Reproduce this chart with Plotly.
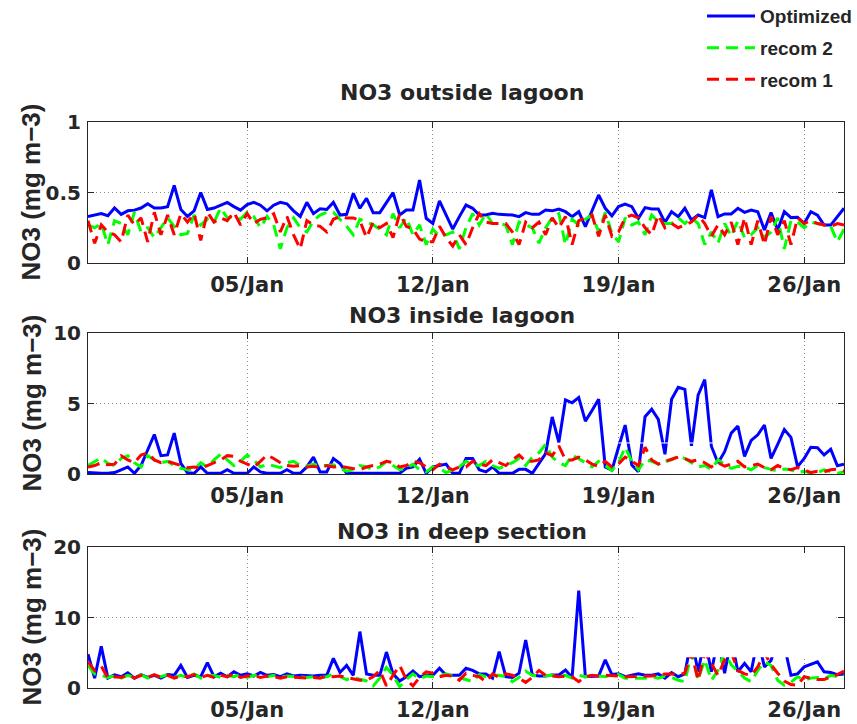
import pandas as pd
import plotly.graph_objects as go

# ---- six-hourly NO3 series (mg m-3), 30 Dec 00:00 -> 27 Jan 12:00 ----
start_time = "2011-12-30 00:00"
n_steps = 115

# NO3 outside lagoon
outside_optimized = [
    0.33, 0.34, 0.35, 0.335, 0.39, 0.345, 0.37, 0.375, 0.39, 0.42,
    0.39, 0.39, 0.40, 0.55, 0.38, 0.33, 0.37, 0.50, 0.38, 0.39,
    0.41, 0.43, 0.40, 0.375, 0.415, 0.43, 0.41, 0.37, 0.41, 0.43,
    0.42, 0.37, 0.33, 0.43, 0.35, 0.385, 0.38, 0.43, 0.34, 0.345,
    0.494, 0.388, 0.459, 0.357, 0.357, 0.43, 0.499, 0.34, 0.376, 0.376,
    0.589, 0.317, 0.281, 0.44, 0.34, 0.241, 0.329, 0.411, 0.388, 0.34,
    0.34, 0.352, 0.345, 0.34, 0.34, 0.329, 0.357, 0.345, 0.345, 0.376,
    0.37, 0.383, 0.364, 0.329, 0.364, 0.258, 0.364, 0.482, 0.388, 0.335,
    0.400, 0.418, 0.400, 0.317, 0.393, 0.383, 0.383, 0.288, 0.364, 0.329,
    0.388, 0.305, 0.340, 0.322, 0.518, 0.329, 0.348, 0.348, 0.388, 0.359,
    0.376, 0.364, 0.234, 0.357, 0.234, 0.364, 0.322, 0.325, 0.281, 0.364,
    0.340, 0.269, 0.269, 0.329, 0.388,
]
outside_recom2 = [
    0.27, 0.25, 0.28, 0.13, 0.30, 0.28, 0.20, 0.36, 0.22, 0.25,
    0.18, 0.25, 0.32, 0.26, 0.20, 0.21, 0.34, 0.27, 0.31, 0.29,
    0.39, 0.32, 0.33, 0.31, 0.36, 0.33, 0.25, 0.33, 0.27, 0.10,
    0.25, 0.32, 0.25, 0.22, 0.30, 0.34, 0.36, 0.36,
    0.31, 0.26, 0.20, 0.31, 0.29, 0.27, 0.24, 0.20, 0.35, 0.25,
    0.32, 0.20, 0.27, 0.13, 0.24, 0.19, 0.20, 0.22, 0.10, 0.25,
    0.35, 0.27, 0.35, 0.28, 0.28, 0.27, 0.13, 0.29, 0.27, 0.25,
    0.14, 0.25, 0.32, 0.35, 0.13, 0.31, 0.27, 0.31,
    0.34, 0.22, 0.36, 0.21, 0.15, 0.32, 0.27, 0.29, 0.20, 0.34,
    0.29, 0.28, 0.28, 0.32, 0.28, 0.32, 0.28, 0.13, 0.22, 0.14,
    0.28, 0.19, 0.30, 0.18, 0.20, 0.25, 0.18, 0.22, 0.32, 0.10,
    0.30, 0.29, 0.25, 0.29, 0.28, 0.27, 0.26, 0.15, 0.24,
]
outside_recom1 = [
    0.30, 0.14, 0.27, 0.22, 0.20, 0.15, 0.34, 0.27, 0.32, 0.15,
    0.36, 0.20, 0.34, 0.20, 0.35, 0.29, 0.35, 0.16, 0.36, 0.29,
    0.32, 0.30, 0.36, 0.27, 0.35, 0.28, 0.31, 0.32, 0.35, 0.22,
    0.33, 0.20, 0.10, 0.30, 0.27, 0.26, 0.22, 0.31,
    0.33, 0.32, 0.32, 0.30, 0.18, 0.29, 0.25, 0.28, 0.18, 0.35,
    0.26, 0.24, 0.17, 0.15, 0.15, 0.26, 0.18, 0.12, 0.20, 0.13,
    0.25, 0.35, 0.29, 0.28, 0.28, 0.28, 0.22, 0.13, 0.29, 0.25,
    0.29, 0.20, 0.32, 0.25, 0.33, 0.13, 0.30, 0.32,
    0.34, 0.19, 0.34, 0.19, 0.22, 0.32, 0.34, 0.32, 0.25, 0.20,
    0.34, 0.25, 0.28, 0.25, 0.27, 0.29, 0.34, 0.28, 0.19, 0.27,
    0.20, 0.29, 0.13, 0.32, 0.13, 0.30, 0.13, 0.33, 0.20, 0.30,
    0.13, 0.32, 0.28, 0.30, 0.28, 0.27, 0.26, 0.28, 0.27,
]

# NO3 inside lagoon
inside_optimized = [
    0.1, 0.05, 0.05, 0.05, 0.1, 0.3, 0.5, 0.05, 0.6, 1.7,
    2.8, 1.3, 1.35, 2.9, 0.75, 0.08, 0.05, 0.5, 0.05, 0.05,
    0.05, 0.3, 0.05, 0.05, 0.05, 0.5, 0.15, 0.05, 0.05, 0.05,
    0.3, 0.05, 0.05, 0.5, 1.2, 0.15, 0.15, 1.1, 0.75, 0.05,
    0.05, 0.05, 0.05, 0.05, 0.05, 0.05, 0.05, 0.05, 0.4, 0.5,
    1.05, 0.05, 0.5, 0.6, 0.7, 0.05, 0.05, 1.1, 1.1, 0.3,
    0.15, 0.5, 0.05, 0.05, 0.05, 0.33, 0.33, 0.05, 0.77, 1.45,
    4.05, 2.25, 5.25, 5.05, 5.42, 3.75, 4.5, 5.3, 0.5, 0.28,
    1.9, 3.47, 0.64, 0.17, 4.06, 4.6, 3.87, 1.4, 5.3, 6.15,
    6.0, 2.0, 5.6, 6.7, 1.97, 0.78, 1.58, 2.9, 3.4, 1.25,
    2.38, 2.78, 3.47, 1.11, 2.1, 3.15, 2.6, 0.52, 1.1, 1.9,
    1.87, 1.35, 1.76, 0.58, 0.7,
]
inside_recom2 = [
    0.6, 0.9, 1.15, 0.75, 0.6, 1.1, 1.3, 0.8, 0.5, 1.3,
    1.0, 0.8, 0.9, 0.6, 0.4, 0.3, 0.35, 0.8, 0.5, 1.0,
    1.4, 1.0, 0.6, 0.9, 1.35, 1.0, 0.5, 0.7, 0.55, 0.45,
    0.8, 0.9, 0.6, 0.55, 0.7, 0.55, 0.6, 0.65, 0.4, 0.2,
    0.3, 0.6, 0.5, 0.3, 0.5, 0.9, 0.6, 0.3, 0.4, 0.7,
    0.3, 0.15, 0.5, 0.4, 0.1, 0.3, 0.5, 0.9, 0.7, 0.6,
    0.9, 0.6, 0.4, 0.6, 0.8, 1.1, 0.6, 1.2, 1.5, 2.1,
    1.2, 0.8, 0.6, 1.35, 1.1, 0.8, 0.5, 0.9, 0.6, 0.25,
    0.8, 1.9, 0.9, 0.3, 1.0, 0.9, 0.7, 0.9, 1.0, 1.3,
    1.1, 0.8, 0.5, 0.6, 0.33, 1.0, 0.7, 0.4, 0.55, 0.5,
    0.3, 0.6, 0.45, 0.3, 0.2, 0.35, 0.3, 0.1, 0.2, 0.05,
    0.1, 0.3, 0.2, 0.05, 0.15,
]
inside_recom1 = [
    0.5, 0.6, 0.8, 0.65, 0.7, 1.3, 1.0, 0.8, 1.35, 1.5,
    1.0, 0.8, 0.9, 0.75, 0.6, 0.45, 0.5, 0.4, 0.6, 0.8,
    1.0, 1.3, 1.25, 0.9, 0.7, 0.5, 0.9, 1.35, 1.1, 0.8,
    0.6, 0.55, 0.6, 0.5, 0.55, 0.45, 0.6, 0.5, 0.55, 0.45,
    0.4, 0.3, 0.5, 0.6, 0.7, 0.9, 0.8, 0.5, 0.6, 0.9,
    0.8, 0.5, 0.3, 0.7, 0.5, 0.3, 0.5, 0.5, 0.9, 0.7,
    0.6, 1.0, 0.8, 0.6, 1.0, 1.35, 0.9, 0.9, 1.0, 1.5,
    1.3, 2.0, 1.0, 1.0, 1.2, 1.0, 0.7, 0.55, 0.9, 0.5,
    0.7, 1.2, 0.9, 0.6, 1.9, 1.0, 0.7, 0.9, 1.05, 1.2,
    1.1, 0.9, 1.0, 0.8, 0.5, 0.8, 0.55, 0.7, 0.9, 0.5,
    0.6, 0.7, 0.45, 0.3, 0.6, 0.4, 0.3, 0.45, 0.3, 0.1,
    0.2, 0.15, 0.3, 0.35, 0.2,
]

# NO3 in deep section
deep_optimized = [
    4.8, 1.4, 5.9, 1.4, 1.85, 1.6, 2.15, 1.4, 1.9, 1.5,
    1.8, 1.4, 1.9, 1.8, 3.2, 1.5, 1.8, 1.6, 3.6, 1.6,
    2.1, 1.6, 2.3, 1.8, 2.0, 1.7, 2.2, 1.8, 1.9, 1.6,
    2.0, 1.7, 1.8, 1.7, 1.7, 1.8, 1.8, 4.2, 2.2, 3.2,
    1.8, 8.0, 2.0, 1.8, 1.8, 5.1, 2.0, 1.0, 1.6, 2.4,
    1.6, 1.8, 1.8, 2.8, 1.8, 1.8, 1.8, 2.8, 2.5, 2.0,
    2.0, 1.4, 5.15, 1.6, 1.5, 2.1, 6.8, 1.85, 1.7, 1.7,
    1.85, 1.85, 2.55, 1.5, 13.8, 1.6, 1.6, 1.7, 4.0, 1.9,
    2.0, 1.6, 1.8, 2.0, 1.8, 1.8, 2.0, 1.4, 2.2, 1.6,
    2.0, 7.0, 2.3, 7.0, 2.3, 7.0, 2.1, 7.0, 2.3, 3.5,
    2.3, 7.0, 3.0, 3.9, 7.0, 6.0, 1.8, 2.0, 3.0, 3.35,
    3.7, 2.3, 2.2, 1.9, 2.0,
]
deep_recom2 = [
    3.2, 2.0, 1.8, 1.5, 1.7, 1.4, 1.8, 1.5, 1.9, 1.4,
    1.8, 1.6, 1.9, 1.5, 1.8, 1.5, 2.0, 1.4, 1.7, 1.8,
    1.5, 1.8, 1.6, 1.9, 1.5, 1.8, 1.7, 1.6, 1.8, 1.5,
    1.7, 1.6, 1.6, 1.5, 1.6, 1.5, 1.6, 2.0, 1.6, 1.2,
    1.5, 1.3, 1.0, 0.3, 1.4, 2.9, 1.8, 0.2, 1.2, 2.0,
    1.3, 1.7, 1.6, 1.7, 2.0, 1.7, 1.5, 1.2, 0.9, 1.9,
    1.6, 1.8, 1.8, 1.6, 0.9, 1.5, 2.4, 1.8, 1.7, 1.8,
    1.8, 1.6, 1.8, 1.4, 1.8, 1.6, 1.8, 1.7, 1.6, 1.9,
    1.9, 1.4, 1.4, 1.5, 1.4, 1.6, 1.4, 1.7, 1.5, 1.1,
    0.9, 5.0, 1.2, 4.0, 1.1, 2.5, 5.0, 3.3, 2.3, 1.4,
    0.9, 2.5, 3.7, 3.2, 1.1, 0.4, 0.8, 1.6, 1.1, 1.4,
    1.5, 1.3, 1.8, 1.6, 1.8,
]
deep_recom1 = [
    3.7, 2.5, 3.1, 1.4, 1.6, 1.5, 1.9, 1.4, 1.8, 1.5,
    1.9, 1.5, 1.8, 1.4, 1.7, 1.6, 1.9, 1.5, 1.8, 1.5,
    1.8, 1.6, 2.0, 1.5, 1.7, 1.8, 1.5, 1.7, 1.6, 1.4,
    1.6, 1.5, 1.5, 1.4, 1.5, 1.4, 1.7, 1.6, 1.7, 1.5,
    1.2, 1.1, 1.1, 1.6, 2.5, 0.3, 1.8, 3.2, 1.2, 0.3,
    1.5, 2.3, 2.1, 1.6, 1.8, 1.7, 1.1, 2.1, 1.8, 1.6,
    0.9, 2.0, 1.5, 2.0, 1.8, 1.4, 0.8, 1.5, 2.5, 1.8,
    1.7, 1.6, 1.7, 1.6, 0.9, 1.6, 1.8, 1.7, 1.8, 1.8,
    1.7, 1.6, 1.6, 1.7, 1.6, 1.7, 1.8, 2.0, 2.0, 1.9,
    2.1, 5.0, 1.1, 5.0, 3.5, 1.8, 4.0, 5.0, 2.5, 2.0,
    1.8, 3.0, 5.0, 3.3, 2.1, 1.0, 0.5, 0.4, 1.6, 1.4,
    1.2, 1.2, 1.5, 1.9, 2.4,
]

panel_titles = ["NO3 outside lagoon", "NO3 inside lagoon", "NO3 in deep section"]
y_label = "NO3 (mg m\u22123)"
y_ranges = [[0, 1], [0, 10], [0, 20]]
y_tick_values = [[0, 0.5, 1], [0, 5, 10], [0, 10, 20]]
y_tick_labels = [["0", "0.5", "1"], ["0", "5", "10"], ["0", "10", "20"]]
x_tick_dates = ["2012-01-05", "2012-01-12", "2012-01-19", "2012-01-26"]
x_range = ["2011-12-30 00:00", "2012-01-27 12:00"]

series_names = ["Optimized", "recom 2", "recom 1"]
panel_data = [
    (outside_optimized, outside_recom2, outside_recom1),
    (inside_optimized, inside_recom2, inside_recom1),
    (deep_optimized, deep_recom2, deep_recom1),
]
for group in panel_data:
    for s in group:
        assert len(s) == n_steps, len(s)

times = pd.date_range(start_time, periods=n_steps, freq="6h")

# ---- styling ----
W, H = 857, 724
AX_L, AX_R = 88, 844
PANEL_PX = [(122, 263), (333, 474), (547, 688)]
INK = "#262626"
LINE_STYLES = [
    dict(color="#0000FF", width=3),
    dict(color="#00FF00", width=3, dash="12px,7px"),
    dict(color="#FF0000", width=3, dash="12px,7px"),
]

fig = go.Figure()

for k, group in enumerate(panel_data):
    suffix = "" if k == 0 else str(k + 1)
    for j, values in enumerate(group):
        fig.add_trace(go.Scatter(
            x=times, y=values, mode="lines",
            name=series_names[j], legendgroup=series_names[j],
            showlegend=(k == 0),
            line=LINE_STYLES[j],
            xaxis="x" + suffix, yaxis="y" + suffix,
        ))

layout = dict(
    width=W, height=H,
    margin=dict(l=0, r=0, t=0, b=0, autoexpand=False),
    paper_bgcolor="white", plot_bgcolor="white",
    showlegend=True,
    legend=dict(
        x=702 / W, y=1.004, xanchor="left", yanchor="top",
        bgcolor="rgba(0,0,0,0)", borderwidth=0,
        font=dict(family="Liberation Sans", size=19, color=INK, weight="bold"),
        itemwidth=48, tracegroupgap=4,
    ),
)

common_axis = dict(
    showline=True, linecolor=INK, linewidth=1, mirror="ticks",
    ticks="inside", ticklen=6, tickcolor=INK, tickwidth=1,
    showgrid=True, gridcolor="#8c8c8c", gridwidth=1, griddash="1px,3px",
    zeroline=False, automargin=False,
)

annotations = []
for k in range(3):
    suffix = "" if k == 0 else str(k + 1)
    top_px, bot_px = PANEL_PX[k]
    layout["xaxis" + suffix] = dict(
        common_axis,
        domain=[AX_L / W, AX_R / W], anchor="y" + suffix,
        type="date", range=x_range,
        tickvals=x_tick_dates, tickformat="%d/%b",
        ticklabelstandoff=3,
        tickfont=dict(family="DejaVu Sans", size=21, color=INK, weight="bold"),
    )
    layout["yaxis" + suffix] = dict(
        common_axis,
        domain=[1 - bot_px / H, 1 - top_px / H], anchor="x" + suffix,
        range=y_ranges[k], tickvals=y_tick_values[k], ticktext=y_tick_labels[k],
        ticklabelstandoff=2,
        tickfont=dict(family="DejaVu Sans", size=20, color=INK, weight="bold"),
    )
    annotations.append(dict(
        text=y_label, textangle=-90, xref="paper", yref="paper",
        x=31 / W, y=1 - (top_px + bot_px) / 2 / H,
        xanchor="center", yanchor="middle", showarrow=False,
        font=dict(family="Liberation Sans", size=26, color=INK, weight="bold"),
    ))

title_centres = [93, 315.5, 531]
for k, title in enumerate(panel_titles):
    annotations.append(dict(
        text=title, xref="paper", yref="paper",
        x=462 / W, y=1 - title_centres[k] / H,
        xanchor="center", yanchor="middle", showarrow=False,
        font=dict(family="DejaVu Sans", size=22, color=INK, weight="bold"),
    ))

layout["annotations"] = annotations

# white overlay strips sitting on top of the lower two panels
layout["shapes"] = [
    dict(type="line", xref="x2", yref="y2",
         x0="2012-01-19 00:00", x1="2012-01-22 22:00", y0=2.2, y1=2.2,
         line=dict(color="white", width=1), layer="above"),
    dict(type="rect", xref="x3", yref="y3",
         x0="2012-01-19 16:00", x1="2012-01-27 05:00", y0=4.35, y1=19.1,
         fillcolor="white", line=dict(width=0), layer="above"),
]

fig.update_layout(**layout)
fig.write_html("out.html")
